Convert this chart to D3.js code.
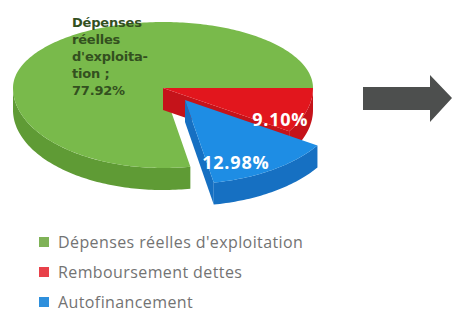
<!DOCTYPE html>
<html>
<head>
<meta charset="utf-8">
<script src="https://cdn.jsdelivr.net/npm/d3@7"></script>
<style>
    body { margin: 0; background: #fff; }
    svg { display: block; }
</style>
</head>
<body>
<svg id="chart" width="453" height="313"></svg>
<script>
// slices, drawn clockwise from 3 o'clock
const categories = ["Remboursement dettes", "Autofinancement", "Dépenses réelles d'exploitation"];
const values = [9.10, 12.98, 77.92];
const valueLabels = ["9.10%", "12.98%", "Dépenses réelles d'exploita-tion ; 77.92%"];
const legendOrder = ["Dépenses réelles d'exploitation", "Remboursement dettes", "Autofinancement"];

const topColors = {"Remboursement dettes": "#e2161d", "Autofinancement": "#1e8de4", "Dépenses réelles d'exploitation": "#79ba4b"};
const sideColors = {"Remboursement dettes": "#c5131a", "Autofinancement": "#1670c2", "Dépenses réelles d'exploitation": "#5f9b35"};
const legendColors = {"Remboursement dettes": "#e8414a", "Autofinancement": "#2e8fdc", "Dépenses réelles d'exploitation": "#7fb257"};

const svg = d3.select("#chart");

const cx = 163, cy = 88, rx = 150, ryTop = 66, ryBot = 80, depth = 22;
const explode = {"Autofinancement": [22, 12, 1.05]};

const pie = d3.pie().sort(null).value((d) => d.value)
    .startAngle(Math.PI / 2).endAngle(Math.PI / 2 + 2 * Math.PI);

const arcs = pie(categories.map((c, i) => ({name: c, value: values[i], label: valueLabels[i]})));

// projected point on the tilted disc; t is screen angle clockwise from 3 o'clock
function pt(t, r, off, dz) {
    const s = Math.sin(t);
    const ry = s > 0 ? ryBot : ryTop;
    return [off[0] + cx + rx * r * Math.cos(t), off[1] + cy + ry * r * s + dz];
}

const line = d3.line();

function arcPoints(t0, t1, r, off, dz) {
    const n = Math.max(2, Math.ceil(Math.abs(t1 - t0) / 0.02));
    return d3.range(n + 1).map((k) => pt(t0 + (t1 - t0) * k / n, r, off, dz));
}

const g = svg.append("g");

// back to front: big slice, then the red one, then the pulled-out blue one
const drawOrder = ["Dépenses réelles d'exploitation", "Remboursement dettes", "Autofinancement"];

drawOrder.map((n) => arcs.find((a) => a.data.name === n)).forEach((a) => {
    const ex = explode[a.data.name] || [0, 0, 1];
    const off = [ex[0], ex[1]], r = ex[2];
    const t0 = a.startAngle - Math.PI / 2, t1 = a.endAngle - Math.PI / 2;

    // outer side, only the part facing the viewer
    const f0 = Math.max(t0, 0), f1 = Math.min(t1, Math.PI);
    if (f1 > f0) {
        const upper = arcPoints(f0, f1, r, off, 0);
        const lower = arcPoints(f1, f0, r, off, depth);
        g.append("path")
            .attr("d", line(upper.concat(lower)) + "Z")
            .attr("fill", sideColors[a.data.name]);
    }

    // cut face at the end angle when it turns toward the viewer
    if (Math.cos(t1) > 0 && t1 < Math.PI) {
        const c = pt(0, 0, off, 0), e = pt(t1, r, off, 0);
        g.append("path")
            .attr("d", line([c, e, [e[0], e[1] + depth], [c[0], c[1] + depth]]) + "Z")
            .attr("fill", sideColors[a.data.name]);
    }

    g.append("path")
        .attr("d", line([pt(0, 0, off, 0)].concat(arcPoints(t0, t1, r, off, 0))) + "Z")
        .attr("fill", topColors[a.data.name]);
});

// value labels
const labelNudge = {"Remboursement dettes": [0.78, 5, 20], "Autofinancement": [0.62, -1, 28]};
arcs.forEach((a) => {
    const nudge = labelNudge[a.data.name];
    if (!nudge) return;
    const ex = explode[a.data.name] || [0, 0, 1];
    const mid = (a.startAngle + a.endAngle) / 2 - Math.PI / 2;
    const p = pt(mid, nudge[0], [ex[0] + nudge[1], ex[1] + nudge[2]], 0);
    svg.append("text")
        .attr("x", p[0])
        .attr("y", p[1])
        .attr("text-anchor", "middle")
        .attr("font-family", "Open Sans")
        .attr("font-weight", "bold")
        .attr("font-size", 18)
        .attr("letter-spacing", 0.8)
        .attr("fill", "#fff")
        .text(a.data.label);
});

// big slice label, wrapped like the original
const greenLines = ["Dépenses", "réelles", "d'exploita-", "tion ;", "77.92%"];
svg.append("text")
    .attr("font-family", "DejaVu Sans")
    .attr("font-weight", "bold")
    .attr("font-size", 13)
    .attr("letter-spacing", -0.2)
    .attr("fill", "#33501f")
    .selectAll("tspan")
    .data(greenLines)
    .join("tspan")
    .attr("x", 72)
    .attr("y", (d, i) => 27 + i * 17)
    .text((d) => d);

// legend
const legendY = d3.scalePoint().domain(legendOrder).range([242, 302]);
const legend = svg.append("g").selectAll("g")
    .data(legendOrder)
    .join("g")
    .attr("transform", (d) => "translate(39," + legendY(d) + ")");

legend.append("rect")
    .attr("y", -5)
    .attr("width", 10)
    .attr("height", 10)
    .attr("fill", (d) => legendColors[d]);

legend.append("text")
    .attr("x", 19)
    .attr("y", 6)
    .attr("font-family", "Open Sans")
    .attr("font-size", 16)
    .attr("letter-spacing", 0.4)
    .attr("fill", "#737373")
    .text((d) => d);

// arrow on the right
svg.append("path")
    .attr("d", line([[363, 87], [430, 87], [430, 75], [452, 98], [430, 122], [430, 110], [363, 110]]) + "Z")
    .attr("fill", "#4d4f4e");
</script>
</body>
</html>
